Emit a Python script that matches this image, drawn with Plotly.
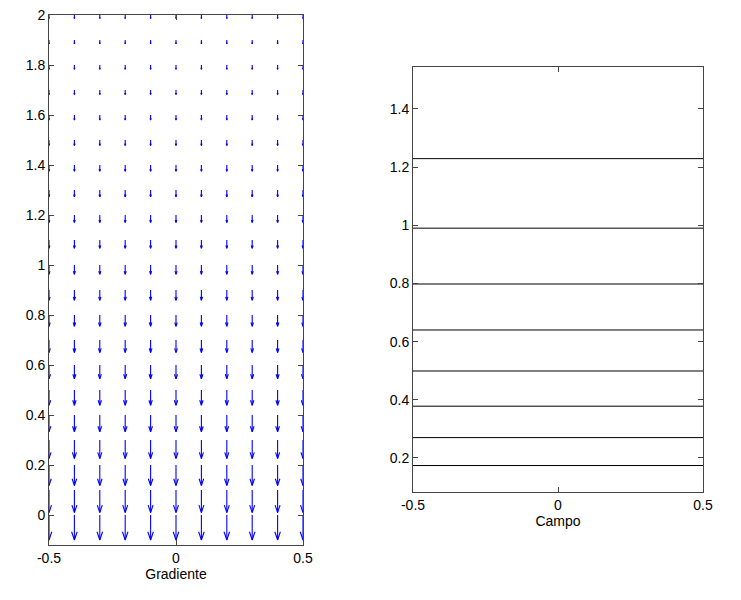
import plotly.graph_objects as go

# ---- data ----
grid_x = [-0.5, -0.4, -0.3, -0.2, -0.1, 0.0, 0.1, 0.2, 0.3, 0.4, 0.5]
grid_y = [0.0, 0.1, 0.2, 0.3, 0.4, 0.5, 0.6, 0.7, 0.8, 0.9, 1.0,
          1.1, 1.2, 1.3, 1.4, 1.5, 1.6, 1.7, 1.8, 1.9, 2.0]
# downward arrow length (data units) read per row
arrow_v = [-0.100, -0.090, -0.082, -0.074, -0.067, -0.061, -0.055, -0.050,
           -0.045, -0.041, -0.037, -0.033, -0.030, -0.027, -0.025, -0.022,
           -0.020, -0.018, -0.017, -0.015, -0.014]
contour_levels_y = [0.174, 0.270, 0.378, 0.499, 0.640, 0.798, 0.990, 1.229]
left_yticks = [0, 0.2, 0.4, 0.6, 0.8, 1, 1.2, 1.4, 1.6, 1.8, 2]
right_yticks = [0.2, 0.4, 0.6, 0.8, 1, 1.2, 1.4]
xticks = [-0.5, 0, 0.5]

# ---- build quiver segments ----
alpha, beta = 0.33, 0.33
qx, qy = [], []
for y0, v in zip(grid_y, arrow_v):
    for x0 in grid_x:
        u = 0.0
        xe, ye = x0 + u, y0 + v
        qx += [x0, xe, None]
        qy += [y0, ye, None]
        qx += [xe - alpha * (u + beta * v), xe, xe - alpha * (u - beta * v), None]
        qy += [ye - alpha * (v - beta * u), ye, ye - alpha * (v + beta * u), None]

cx, cy = [], []
for lv in contour_levels_y:
    cx += [-0.5, 0.5, None]
    cy += [lv, lv, None]

fig = go.Figure()
fig.add_trace(go.Scatter(x=qx, y=qy, mode="lines", line=dict(color="#0000ff", width=1.1),
                         xaxis="x", yaxis="y", showlegend=False, hoverinfo="skip",
                         cliponaxis=False))
fig.add_trace(go.Scatter(x=cx, y=cy, mode="lines", line=dict(color="#000000", width=1),
                         xaxis="x2", yaxis="y2", showlegend=False, hoverinfo="skip"))

font = dict(family="Liberation Sans, Arial, Helvetica, sans-serif", size=14, color="#000")
axcommon = dict(showline=True, mirror="ticks", linecolor="#444", linewidth=1,
                ticks="inside", ticklen=5, tickcolor="#444", showgrid=False,
                zeroline=False, tickfont=font, automargin=False,
                ticklabeloverflow="allow")

W, H, OFF = 741, 600, 0  # body margin removed below

def xd(a, b):
    return [(a - OFF) / W, (b - OFF) / W]

def yd(top, bottom):
    return [(H - (bottom - OFF)) / H, (H - (top - OFF)) / H]

fig.update_layout(
    width=W, height=H,
    margin=dict(l=0, r=0, t=0, b=0),
    paper_bgcolor="white", plot_bgcolor="white",
    font=font, hovermode=False,
    xaxis=dict(domain=xd(49, 303), range=[-0.5, 0.5], tickvals=xticks,
               ticktext=["-0.5", "0", "0.5"], anchor="y",
               title=dict(text="Gradiente", font=font, standoff=4), **axcommon),
    yaxis=dict(domain=yd(15, 545), range=[-0.12, 2.0],
               tickvals=left_yticks, ticktext=[("%g" % t) for t in left_yticks],
               anchor="x", **axcommon),
    xaxis2=dict(domain=xd(413, 703), range=[-0.5, 0.5], tickvals=xticks,
                ticktext=["-0.5", "0", "0.5"], anchor="y2",
                title=dict(text="Campo", font=font, standoff=4), **axcommon),
    yaxis2=dict(domain=yd(67, 492), range=[0.083, 1.544],
                tickvals=right_yticks, ticktext=[("%g" % t) for t in right_yticks],
                anchor="x2", **axcommon),
)

fig.write_html("out.html", config={"displayModeBar": False},
               post_script="document.body.style.margin='0';")
